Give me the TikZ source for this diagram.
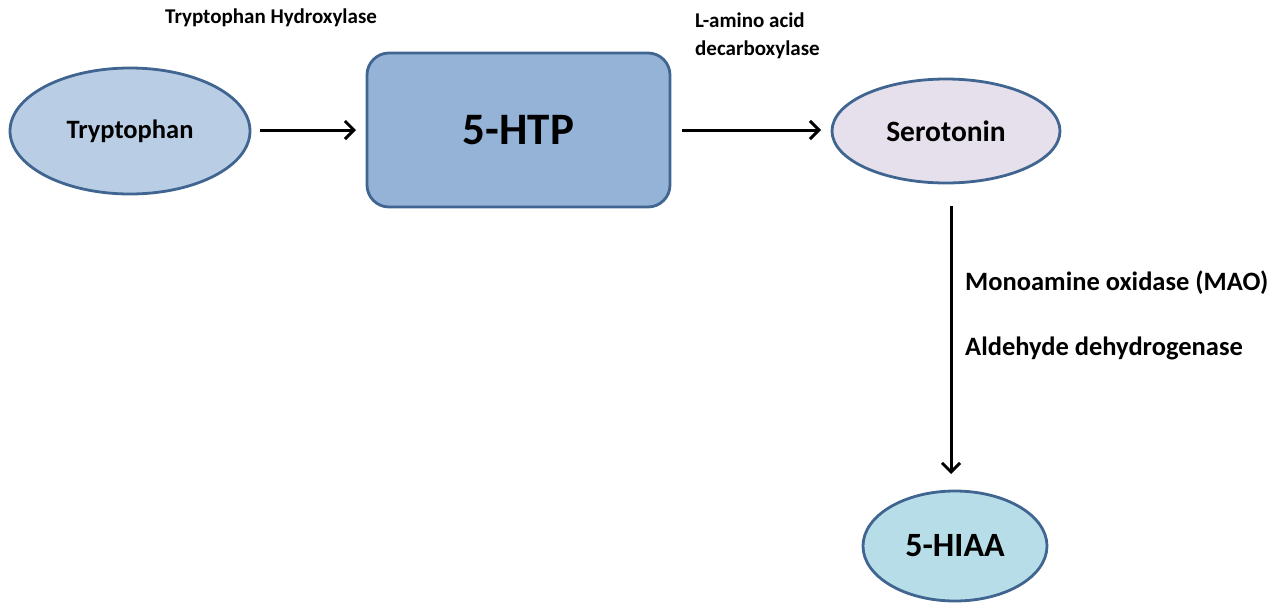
\documentclass[tikz,border=0pt]{standalone}
\usepackage{fontspec}
\setmainfont{Carlito}
\usetikzlibrary{shapes.geometric,arrows.meta}
\definecolor{edge}{HTML}{3F6590}
\definecolor{fillA}{HTML}{B9CDE5}
\definecolor{fillB}{HTML}{95B3D7}
\definecolor{fillC}{HTML}{E6E0EC}
\definecolor{fillD}{HTML}{B7DEE8}
\tikzset{
  oval/.style={ellipse, draw=edge, line width=2.8pt, inner sep=0pt},
  boxnode/.style={rectangle, rounded corners=22pt, draw=edge, line width=2.8pt},
  conn/.style={line width=3pt, -{Straight Barb[length=9pt,width=18pt,line width=3pt]}},
  lbl/.style={anchor=west, inner sep=0pt},
}
\begin{document}
\begin{tikzpicture}[x=1pt,y=-1pt]
\useasboundingbox (0,0) rectangle (1280,603);
\node[oval, fill=fillA, minimum width=240pt, minimum height=126pt, font=\bfseries\fontsize{26.5}{30}\selectfont] (trp) at (130,131) {Tryptophan};
\node[boxnode, fill=fillB, minimum width=303pt, minimum height=154pt, font=\bfseries\fontsize{45}{50}\selectfont] (htp) at (518.5,130) {5-HTP};
\node[oval, fill=fillC, minimum width=228pt, minimum height=104pt, font=\bfseries\fontsize{29.5}{34}\selectfont] (ser) at (946,131) {Serotonin};
\node[oval, fill=fillD, minimum width=184pt, minimum height=110pt, font=\bfseries\fontsize{34}{38}\selectfont] (hiaa) at (955,546) {5-HIAA};
\coordinate (a1s) at (260,130);
\coordinate (a1e) at (356,130);
\coordinate (a2s) at (682,130);
\coordinate (a2e) at (821,130);
\coordinate (a3s) at (951,206);
\coordinate (a3e) at (951,474);
\draw[conn] (a1s) -- (a1e);
\draw[conn] (a2s) -- (a2e);
\draw[conn] (a3s) -- (a3e);
\node[lbl, font=\bfseries\fontsize{21}{24}\selectfont] (th) at (165,18) {Tryptophan Hydroxylase};
\node[lbl, font=\bfseries\fontsize{21}{28}\selectfont, align=left] (aadc) at (695,36) {L-amino acid\\decarboxylase};
\node[lbl, font=\bfseries\fontsize{26.5}{30}\selectfont] (mao) at (965,283) {Monoamine oxidase (MAO)};
\node[lbl, font=\bfseries\fontsize{26.5}{30}\selectfont] (aldh) at (965,348) {Aldehyde dehydrogenase};
\end{tikzpicture}
\end{document}
